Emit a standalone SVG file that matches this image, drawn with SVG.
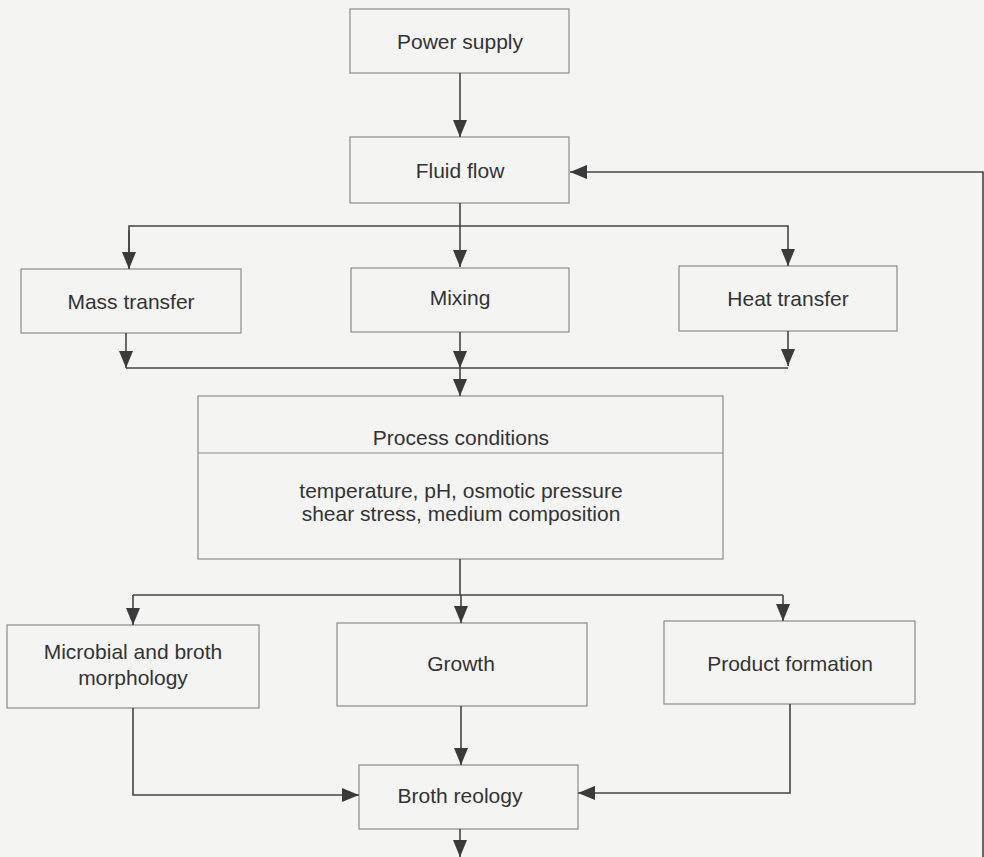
<svg xmlns="http://www.w3.org/2000/svg" width="984" height="857" viewBox="0 0 984 857">
<defs>
<marker id="ah" markerUnits="userSpaceOnUse" markerWidth="17" markerHeight="14" viewBox="0 0 17 14" refX="17" refY="7" orient="auto">
<path d="M0,0 L17,7 L0,14 Z" fill="#3a3a3a"/>
</marker>
</defs>
<style>
.box{fill:none;stroke:#8a8a8a;stroke-width:1.2}
.t{font-family:"Liberation Sans",Arial,sans-serif;font-size:21px;fill:#333;text-anchor:middle}
.c{fill:none;stroke:#444;stroke-width:1.6}
</style>
<rect width="984" height="857" fill="#f4f4f3"/>
<g id="power"><rect class="box" x="350" y="9" width="219" height="64"/><text class="t" x="460" y="49">Power supply</text></g>
<g id="fluid"><rect class="box" x="350" y="137" width="219" height="66"/><text class="t" x="460" y="178">Fluid flow</text></g>
<g id="mass"><rect class="box" x="21" y="269" width="220" height="64"/><text class="t" x="131" y="309">Mass transfer</text></g>
<g id="mixing"><rect class="box" x="351" y="268" width="218" height="64"/><text class="t" x="460" y="305">Mixing</text></g>
<g id="heat"><rect class="box" x="679" y="266" width="218" height="65"/><text class="t" x="788" y="306">Heat transfer</text></g>
<g id="process"><rect class="box" x="198" y="396" width="525" height="163"/><line class="box" x1="198" y1="453" x2="723" y2="453"/><text class="t" x="461" y="445">Process conditions</text><text class="t" x="461" y="498">temperature, pH, osmotic pressure</text><text class="t" x="461" y="521">shear stress, medium composition</text></g>
<g id="microbial"><rect class="box" x="7" y="625" width="252" height="83"/><text class="t" x="133" y="659">Microbial and broth</text><text class="t" x="133" y="685">morphology</text></g>
<g id="growth"><rect class="box" x="337" y="623" width="250" height="83"/><text class="t" x="461" y="671">Growth</text></g>
<g id="product"><rect class="box" x="664" y="621" width="251" height="83"/><text class="t" x="790" y="671">Product formation</text></g>
<g id="broth"><rect class="box" x="359" y="765" width="219" height="64"/><text class="t" x="460" y="803">Broth reology</text></g>
<g id="connectors">
<line class="c" x1="460" y1="73" x2="460" y2="137" marker-end="url(#ah)"/>
<polyline class="c" points="983,857 983,172 570,172" marker-end="url(#ah)"/>
<line class="c" x1="460" y1="203" x2="460" y2="267" marker-end="url(#ah)"/>
<polyline class="c" points="129,268 129,226 788,226 788,266" marker-end="url(#ah)"/>
<line class="c" x1="129" y1="230" x2="129" y2="269" marker-end="url(#ah)"/>
<line class="c" x1="126" y1="333" x2="126" y2="368" marker-end="url(#ah)"/>
<line class="c" x1="460" y1="332" x2="460" y2="368" marker-end="url(#ah)"/>
<line class="c" x1="788" y1="331" x2="788" y2="366" marker-end="url(#ah)"/>
<line class="c" x1="126" y1="368" x2="788" y2="368"/>
<line class="c" x1="460" y1="368" x2="460" y2="396" marker-end="url(#ah)"/>
<line class="c" x1="460" y1="559" x2="460" y2="595"/>
<polyline class="c" points="133,595 783,595"/>
<line class="c" x1="133" y1="595" x2="133" y2="625" marker-end="url(#ah)"/>
<line class="c" x1="461" y1="595" x2="461" y2="623" marker-end="url(#ah)"/>
<line class="c" x1="783" y1="595" x2="783" y2="621" marker-end="url(#ah)"/>
<line class="c" x1="461" y1="706" x2="461" y2="765" marker-end="url(#ah)"/>
<polyline class="c" points="133,708 133,795 359,795" marker-end="url(#ah)"/>
<polyline class="c" points="790,704 790,793 578,793" marker-end="url(#ah)"/>
<line class="c" x1="460" y1="829" x2="460" y2="857" marker-end="url(#ah)"/>
</g>
</svg>
